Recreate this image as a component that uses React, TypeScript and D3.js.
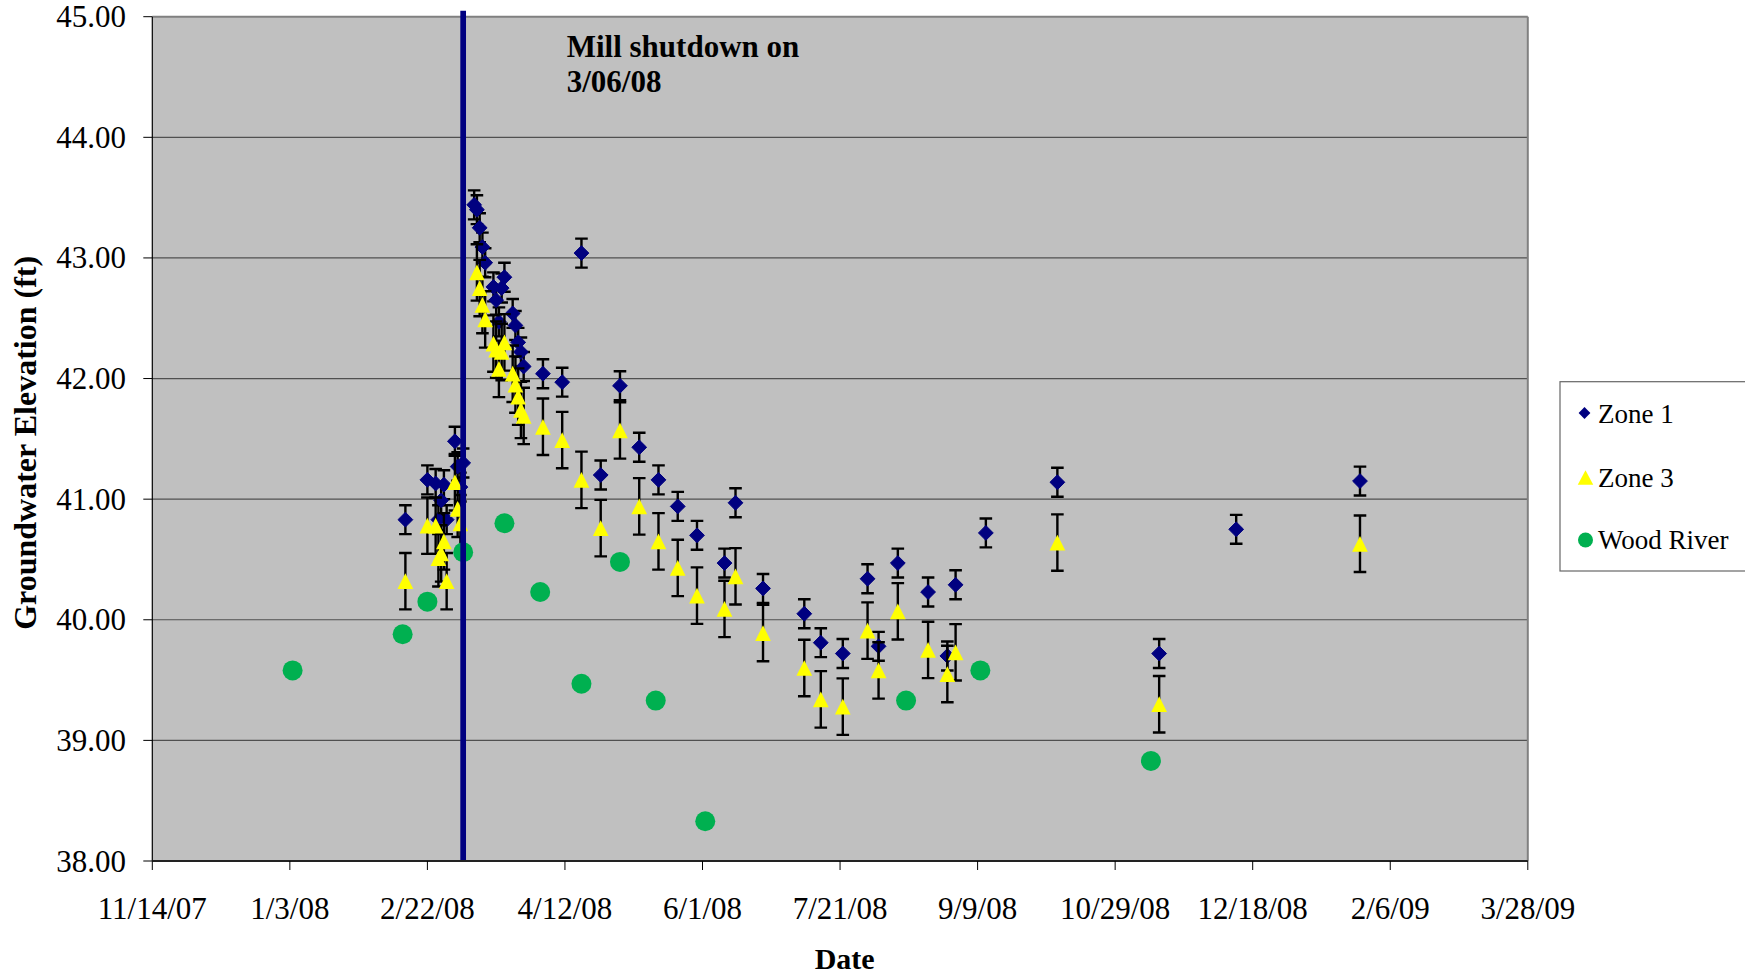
import React from 'react';
import * as d3 from 'd3';

// Groundwater elevations around the mill shutdown
const zone1Dates = [
  '2008-02-14', '2008-02-22', '2008-02-25', '2008-02-26', '2008-02-27', '2008-02-28', '2008-02-29',
  '2008-03-03', '2008-03-04', '2008-03-05', '2008-03-06',
  '2008-03-10', '2008-03-11', '2008-03-12', '2008-03-13', '2008-03-14', '2008-03-17', '2008-03-18',
  '2008-03-19', '2008-03-20', '2008-03-21', '2008-03-24', '2008-03-25', '2008-03-26', '2008-03-27',
  '2008-03-28', '2008-04-04', '2008-04-11', '2008-04-18', '2008-04-25', '2008-05-02', '2008-05-09',
  '2008-05-16', '2008-05-23', '2008-05-30', '2008-06-09', '2008-06-13', '2008-06-23', '2008-07-08',
  '2008-07-14', '2008-07-22', '2008-07-31', '2008-08-04', '2008-08-11', '2008-08-22', '2008-08-29',
  '2008-09-01', '2008-09-12', '2008-10-08', '2008-11-14', '2008-12-12', '2009-01-26',
];
const zone1Values = [
  40.83, 41.16, 41.13, 40.83, 40.99, 41.12, 40.83,
  41.48, 41.27, 41.1, 41.3,
  43.44, 43.4, 43.25, 43.09, 42.96, 42.76, 42.65,
  42.47, 42.75, 42.84, 42.54, 42.44, 42.3, 42.22,
  42.1, 42.04, 41.97, 43.04, 41.2, 41.94, 41.43,
  41.16, 40.94, 40.7, 40.47, 40.97, 40.26, 40.05,
  39.81, 39.72, 40.34, 39.78, 40.47, 40.23, 39.7,
  40.29, 40.72, 41.14, 39.72, 40.75, 41.15,
];

const zone3Dates = [
  '2008-02-14', '2008-02-22', '2008-02-25', '2008-02-26', '2008-02-27', '2008-02-28', '2008-02-29',
  '2008-03-03', '2008-03-04', '2008-03-05',
  '2008-03-11', '2008-03-12', '2008-03-13', '2008-03-14', '2008-03-17', '2008-03-18', '2008-03-19',
  '2008-03-20', '2008-03-21', '2008-03-24', '2008-03-25', '2008-03-26', '2008-03-27', '2008-03-28',
  '2008-04-04', '2008-04-11', '2008-04-18', '2008-04-25', '2008-05-02', '2008-05-09', '2008-05-16',
  '2008-05-23', '2008-05-30', '2008-06-09', '2008-06-13', '2008-06-23', '2008-07-08', '2008-07-14',
  '2008-07-22', '2008-07-31', '2008-08-04', '2008-08-11', '2008-08-22', '2008-08-29', '2008-09-01',
  '2008-10-08', '2008-11-14', '2009-01-26',
];
const zone3Values = [
  40.32, 40.78, 40.78, 40.51, 40.55, 40.65, 40.32,
  41.14, 40.92, 40.8,
  42.88, 42.75, 42.61, 42.49, 42.29, 42.24, 42.08,
  42.22, 42.3, 42.04, 41.95, 41.85, 41.74, 41.69,
  41.6, 41.49, 41.16, 40.76, 41.57, 40.94, 40.65,
  40.43, 40.2, 40.09, 40.36, 39.89, 39.6, 39.34,
  39.28, 39.91, 39.58, 40.07, 39.75, 39.55, 39.73,
  40.64, 39.3, 40.63,
];

const woodRiverDates = [
  '2008-01-04', '2008-02-13', '2008-02-22', '2008-03-06', '2008-03-21', '2008-04-03', '2008-04-18',
  '2008-05-02', '2008-05-15', '2008-06-02', '2008-08-14', '2008-09-10', '2008-11-11',
];
const woodRiverValues = [
  39.58, 39.88, 40.15, 40.56, 40.8, 40.23, 39.47,
  40.48, 39.33, 38.33, 39.33, 39.58, 38.83,
];

const zone1Error = 0.12;
const zone3Error = 0.234;

const xTickLabels = [
  '11/14/07', '1/3/08', '2/22/08', '4/12/08', '6/1/08', '7/21/08',
  '9/9/08', '10/29/08', '12/18/08', '2/6/09', '3/28/09',
];
const yTicks = [38, 39, 40, 41, 42, 43, 44, 45];

const shutdownDate = '3/06/08';
const legendNames = ['Zone 1', 'Zone 3', 'Wood River'];

const W = 1745;
const H = 978;
const plot = { left: 152.3, right: 1527.8, top: 16.7, bottom: 861 };
const font = '"Liberation Serif", "Times New Roman", serif';

const NAVY = '#000080';
const YELLOW = '#FFFF00';
const GREEN = '#00B050';

const parseIso = d3.utcParse('%Y-%m-%d');
const parseLabel = d3.utcParse('%m/%d/%y');

const x = d3
  .scaleUtc()
  .domain([parseLabel(xTickLabels[0])!, parseLabel(xTickLabels[xTickLabels.length - 1])!])
  .range([plot.left, plot.right]);
const y = d3.scaleLinear().domain([38, 45]).range([plot.bottom, plot.top]);

const diamond = (s: number) => `M0,${-s}L${s},0L0,${s}L${-s},0Z`;
const triangle = (w: number, h: number) => `M0,${-h / 2}L${w / 2},${h / 2}L${-w / 2},${h / 2}Z`;

function ErrorBars({ dates, values, err }: { dates: string[]; values: number[]; err: number }) {
  return (
    <g stroke="#000" strokeWidth={2.4} fill="none">
      {dates.map((d, i) => {
        const cx = x(parseIso(d)!);
        const y0 = y(values[i] - err);
        const y1 = y(values[i] + err);
        return (
          <path
            key={i}
            d={`M${cx},${y0}V${y1}M${cx - 6.3},${y0}H${cx + 6.3}M${cx - 6.3},${y1}H${cx + 6.3}`}
          />
        );
      })}
    </g>
  );
}

export default function App() {
  const lineX = x(parseLabel(shutdownDate)!);
  return (
    <svg
      width={W}
      height={H}
      style={{ position: 'absolute', left: 0, top: 0, background: '#fff' }}
      fontFamily={font}
    >
      <rect x={0} y={0} width={W} height={H} fill="#fff" />
      {/* plot area */}
      <rect
        x={plot.left}
        y={plot.top}
        width={plot.right - plot.left}
        height={plot.bottom - plot.top}
        fill="#C0C0C0"
      />
      {yTicks.slice(1, -1).map((t) => (
        <line key={t} x1={plot.left} x2={plot.right} y1={y(t)} y2={y(t)} stroke="#505050" strokeWidth={1.2} />
      ))}
      <line x1={plot.left} x2={plot.right} y1={plot.top} y2={plot.top} stroke="#808080" strokeWidth={2} />
      <line x1={plot.right} x2={plot.right} y1={plot.top} y2={plot.bottom} stroke="#808080" strokeWidth={2} />

      {/* series */}
      <ErrorBars dates={zone1Dates} values={zone1Values} err={zone1Error} />
      <g fill={NAVY} stroke={NAVY} strokeWidth={1}>
        {zone1Dates.map((d, i) => (
          <path key={i} d={diamond(7.4)} transform={`translate(${x(parseIso(d)!)},${y(zone1Values[i])})`} />
        ))}
      </g>
      <ErrorBars dates={zone3Dates} values={zone3Values} err={zone3Error} />
      <g fill={YELLOW}>
        {zone3Dates.map((d, i) => (
          <path key={i} d={triangle(15.7, 15.7)} transform={`translate(${x(parseIso(d)!)},${y(zone3Values[i])})`} />
        ))}
      </g>
      <g fill={GREEN}>
        {woodRiverDates.map((d, i) => (
          <circle key={i} cx={x(parseIso(d)!)} cy={y(woodRiverValues[i])} r={10} />
        ))}
      </g>

      {/* shutdown marker */}
      <line x1={lineX} x2={lineX} y1={y(45.05)} y2={plot.bottom} stroke={NAVY} strokeWidth={5.7} />
      <text x={566.7} y={56.7} fontSize={31} fontWeight="bold">
        Mill shutdown on
      </text>
      <text x={566.7} y={91.7} fontSize={31} fontWeight="bold">
        {shutdownDate}
      </text>

      {/* axes */}
      <line x1={plot.left} x2={plot.left} y1={plot.top} y2={plot.bottom} stroke="#000" strokeWidth={1.2} />
      <line x1={plot.left} x2={plot.right} y1={plot.bottom} y2={plot.bottom} stroke="#222" strokeWidth={2} />
      {yTicks.map((t) => (
        <g key={t}>
          <line x1={plot.left - 9} x2={plot.left} y1={y(t)} y2={y(t)} stroke="#000" strokeWidth={1} />
          <text x={126} y={y(t) + 10.5} fontSize={31} textAnchor="end">
            {d3.format('.2f')(t)}
          </text>
        </g>
      ))}
      {xTickLabels.map((lab) => {
        const tx = x(parseLabel(lab)!);
        return (
          <g key={lab}>
            <line x1={tx} x2={tx} y1={plot.bottom} y2={plot.bottom + 9} stroke="#000" strokeWidth={1} />
            <text x={tx} y={919} fontSize={31} textAnchor="middle">
              {lab}
            </text>
          </g>
        );
      })}
      <text x={844.7} y={969} fontSize={30} fontWeight="bold" textAnchor="middle">
        Date
      </text>
      <text
        transform={`translate(35.5,${(plot.top + plot.bottom) / 2 + 4}) rotate(-90)`}
        fontSize={32}
        fontWeight="bold"
        textAnchor="middle"
      >
        Groundwater Elevation (ft)
      </text>

      {/* legend */}
      <rect x={1560} y={381.7} width={200} height={189.3} fill="#fff" stroke="#666" strokeWidth={1.2} />
      <path d={diamond(5.9)} transform="translate(1584.5,413)" fill={NAVY} />
      <path d={triangle(15.5, 14.3)} transform="translate(1585.5,477.5)" fill={YELLOW} />
      <circle cx={1585.5} cy={540} r={7.5} fill={GREEN} />
      {legendNames.map((n, i) => (
        <text key={n} x={1598} y={[423.3, 487, 548.5][i]} fontSize={27}>
          {n}
        </text>
      ))}
    </svg>
  );
}
